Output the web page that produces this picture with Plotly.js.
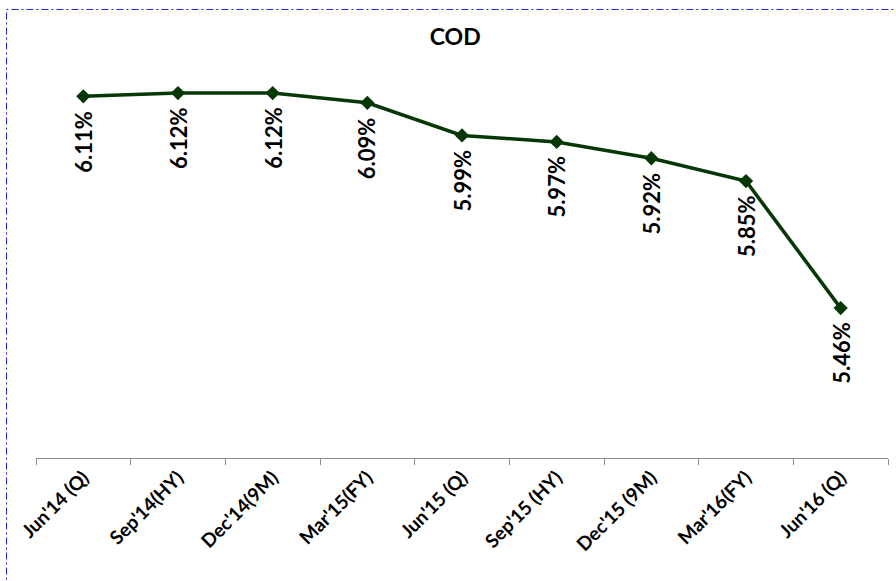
<!DOCTYPE html>
<html>
<head>
<meta charset="utf-8">
<script src="https://cdn.plot.ly/plotly-3.0.1.min.js"></script>
<style>html,body{margin:0;padding:0;background:#fff;}#chart{width:896px;height:581px;}</style>
</head>
<body>
<div id="chart"></div>
<script>
const categories = ["Jun'14 (Q)", "Sep'14(HY)", "Dec'14(9M)", "Mar'15(FY)", "Jun'15 (Q)", "Sep'15 (HY)", "Dec'15 (9M)", "Mar'16(FY)", "Jun'16 (Q)"];
const codValues = [6.11, 6.12, 6.12, 6.09, 5.99, 5.97, 5.92, 5.85, 5.46];
const valueLabels = ["6.11%", "6.12%", "6.12%", "6.09%", "5.99%", "5.97%", "5.92%", "5.85%", "5.46%"];

const lineColor = "#063806";
const fontFam = "Lato, 'Open Sans', sans-serif";

const trace = {
  x: categories,
  y: codValues,
  type: "scatter",
  mode: "lines+markers",
  line: {color: lineColor, width: 3.5},
  marker: {symbol: "diamond", size: 11, color: lineColor},
  hoverinfo: "skip"
};

const annotations = categories.map((c, i) => ({
  x: c, y: codValues[i], xref: "x", yref: "y",
  text: "<b>" + valueLabels[i] + "</b>",
  showarrow: false, textangle: -90,
  xanchor: "center", yanchor: "top", yshift: -12,
  font: {family: fontFam, size: 22, color: "#000"}
}));

const layout = {
  width: 896, height: 581,
  margin: {l: 36, r: 8, t: 67, b: 123},
  paper_bgcolor: "#fff", plot_bgcolor: "#fff",
  showlegend: false,
  title: {text: "<b>COD</b>", x: 0.508, xref: "container", xanchor: "center", y: 0.936, yref: "container", yanchor: "middle",
          font: {family: fontFam, size: 23, color: "#000"}},
  xaxis: {type: "category", range: [-0.5, 8.5], showline: true, linecolor: "#8c8c8c", linewidth: 1,
          ticks: "outside", tickson: "boundaries", ticklen: 6, tickcolor: "#8c8c8c",
          showgrid: false, zeroline: false, tickangle: -45,
          tickfont: {family: fontFam, size: 19, color: "#000", weight: "bold"}},
  yaxis: {range: [5.0, 6.2], visible: false, showgrid: false, zeroline: false},
  annotations: annotations,
  shapes: [{type: "rect", xref: "paper", yref: "paper", x0: -0.03462, x1: 1.2, y0: -0.6, y1: 1.1471,
            line: {color: "#2020e0", width: 1, dash: "7px,3px,2px,3px"}, fillcolor: "rgba(0,0,0,0)"}]
};

Plotly.newPlot("chart", [trace], layout, {staticPlot: true, displayModeBar: false});
</script>
</body>
</html>
